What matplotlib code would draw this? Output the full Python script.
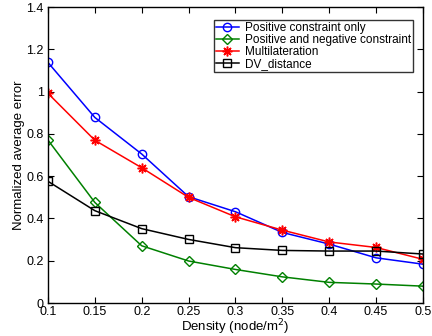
import matplotlib
matplotlib.use("Agg")
import matplotlib.pyplot as plt
from matplotlib.ticker import FuncFormatter

density = [0.1, 0.15, 0.2, 0.25, 0.3, 0.35, 0.4, 0.45, 0.5]
positive_only = [1.138, 0.878, 0.705, 0.503, 0.432, 0.334, 0.279, 0.214, 0.184]
pos_and_neg = [0.771, 0.476, 0.271, 0.199, 0.159, 0.124, 0.098, 0.090, 0.080]
multilateration = [0.992, 0.770, 0.640, 0.500, 0.408, 0.345, 0.289, 0.263, 0.207]
dv_distance = [0.576, 0.437, 0.352, 0.301, 0.262, 0.249, 0.246, 0.246, 0.232]

plt.rcParams["font.family"] = ["Liberation Sans", "DejaVu Sans"]

fig = plt.figure(figsize=(4.32, 3.36), dpi=100)
ax = fig.add_axes([0.111, 0.098, 0.868, 0.881])

ms = 6
ax.plot(density, positive_only, "-o", color="#0000ff", mfc="none", ms=ms, lw=1.1, label="Positive constraint only")
ax.plot(density, pos_and_neg, "-D", color="#008000", mfc="none", ms=ms - 0.5, lw=1.1, label="Positive and negative constraint")
ax.plot(density, multilateration, "-", marker=(8, 2, 0), color="#ff0000", ms=ms + 1, mew=1.1, lw=1.1, label="Multilateration")
ax.plot(density, dv_distance, "-s", color="#000000", mfc="none", ms=ms - 0.5, lw=1.1, label="DV_distance")

ax.set_xlim(0.1, 0.5)
ax.set_ylim(0, 1.4)
ax.set_xticks(density)
ax.set_yticks([0, 0.2, 0.4, 0.6, 0.8, 1.0, 1.2, 1.4])
ax.xaxis.set_major_formatter(FuncFormatter(lambda v, p: f"{v:g}"))
ax.yaxis.set_major_formatter(FuncFormatter(lambda v, p: f"{v:g}"))
ax.tick_params(direction="in", top=True, right=True, labelsize=9, length=4)
ax.tick_params(axis="x", pad=2)
ax.tick_params(axis="y", pad=3)
for s in ax.spines.values():
    s.set_linewidth(1.0)

ax.set_xlabel("Density (node/m$^2$)", fontsize=9.5, labelpad=0)
ax.set_ylabel("Normalized average error", fontsize=9.5, labelpad=1)

leg = ax.legend(loc="upper right", bbox_to_anchor=(0.98, 0.965), fontsize=8.5, frameon=True,
                fancybox=False, edgecolor="black", borderpad=0.2, labelspacing=0.0,
                handlelength=1.9, handletextpad=0.5, borderaxespad=0.2)
leg.get_frame().set_linewidth(1.0)

fig.savefig("out.png", dpi=100)
